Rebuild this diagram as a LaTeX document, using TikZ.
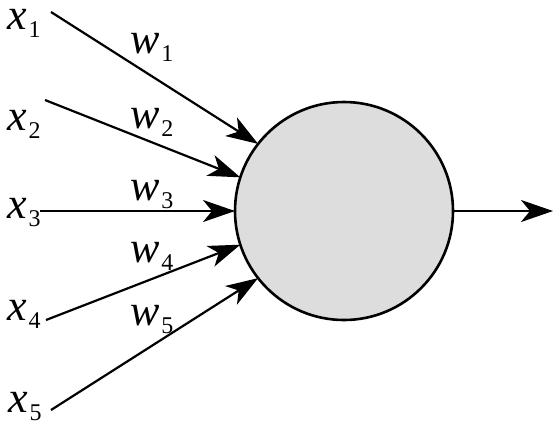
\documentclass[tikz,border=0pt]{standalone}
\usepackage{fontspec}
\setmainfont{Liberation Serif}
\usepackage{tikz}
\usetikzlibrary{arrows.meta,positioning}
\definecolor{cellgray}{RGB}{221,221,221}
\newcommand{\sym}[2]{{\itshape #1}\kern0.8pt\raisebox{-4.3pt}{\fontsize{12}{12}\selectfont #2}}

\begin{document}
\begin{tikzpicture}[
  x=0.5pt, y=-0.5pt,
  lbl/.style={anchor=base west, inner sep=0pt, text height=1.1ex, text depth=4.5pt, font=\fontsize{22}{26}\selectfont},
  arrow/.style={-{Stealth[length=16pt,width=11pt,inset=4.5pt]}, line width=1.1pt},
  neuron/.style={circle, draw, line width=1.3pt, fill=cellgray, minimum size=109pt, inner sep=0pt, outer sep=0pt},
]
\useasboundingbox (0,0) rectangle (560,430);

% neuron
\node[neuron] (n) at (344,211) {};

% inputs
\node[lbl] (x1) at (7,29) {\sym{x}{1}};
\node[lbl] (x2) at (7,130) {\sym{x}{2}};
\node[lbl] (x3) at (7,218) {\sym{x}{3}};
\node[lbl] (x4) at (7,320) {\sym{x}{4}};
\node[lbl] (x5) at (8,412) {\sym{x}{5}};

% weights
\node[lbl] (w1) at (130,53) {\sym{w}{1}};
\node[lbl] (w2) at (130,128) {\sym{w}{2}};
\node[lbl] (w3) at (130,200) {\sym{w}{3}};
\node[lbl] (w4) at (130,262) {\sym{w}{4}};
\node[lbl] (w5) at (130,325) {\sym{w}{5}};

% arrow tails
\coordinate (s1) at (51,12);
\coordinate (s2) at (45,100);
\coordinate (s3) at (40,211);
\coordinate (s4) at (46,320);
\coordinate (s5) at (51,410);
\coordinate (out) at (553,211);

% arrows
\draw[arrow] (s1) -- (n.142);
\draw[arrow] (s2) -- (n.162);
\draw[arrow] (s3) -- (n.180);
\draw[arrow] (s4) -- (n.198);
\draw[arrow] (s5) -- (n.218);
\draw[arrow] (n.east) -- (out);

\end{tikzpicture}
\end{document}
